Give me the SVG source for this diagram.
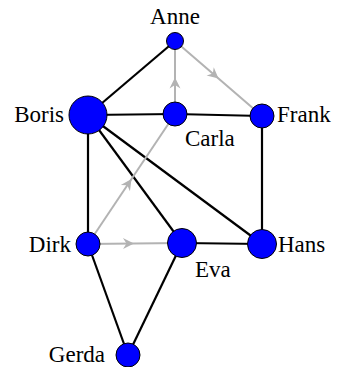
<svg xmlns="http://www.w3.org/2000/svg" width="338" height="367" viewBox="0 0 338 367">
<style>
.e{stroke:#000;stroke-width:2.2;fill:none}
.g{stroke:#b3b3b3;stroke-width:2;fill:none;marker-mid:url(#ah)}
.n{fill:#0000ff;stroke:#000;stroke-width:1}
.t{font-family:'Liberation Serif',Tinos,'Times New Roman',Times,'Noto Serif','DejaVu Serif',serif;font-size:23px;fill:#000}
</style>
<defs>
<marker id="ah" markerUnits="userSpaceOnUse" markerWidth="14" markerHeight="14" viewBox="-12 -7 14 14" refX="0" refY="0" orient="auto">
<path d="M0,0 L-11,-5.5 L-7.5,0 L-11,5.5 Z" fill="#b3b3b3"/>
</marker>
</defs>
<rect width="338" height="367" fill="#fff"/>
<g id="connectors">
<line class="e" x1="175" y1="41" x2="88" y2="115"/>
<line class="e" x1="88" y1="115" x2="175" y2="114"/>
<line class="e" x1="175" y1="114" x2="262" y2="116"/>
<line class="e" x1="262" y1="116" x2="262" y2="244"/>
<line class="e" x1="88" y1="115" x2="88" y2="244"/>
<line class="e" x1="88" y1="115" x2="182" y2="243"/>
<line class="e" x1="88" y1="115" x2="262" y2="244"/>
<line class="e" x1="182" y1="243" x2="262" y2="244"/>
<line class="e" x1="88" y1="244" x2="128" y2="355"/>
<line class="e" x1="182" y1="243" x2="128" y2="355"/>
<polyline class="g" points="175,114 175,77.5 175,41"/>
<polyline class="g" points="175,41 218.5,78.5 262,116"/>
<polyline class="g" points="88,244 131.5,179 175,114"/>
<polyline class="g" points="88,244 134,243.5 182,243"/>
</g>
<g id="anne"><circle class="n" cx="175" cy="41" r="8.5"/><text class="t" x="175" y="24" text-anchor="middle">Anne</text></g>
<g id="boris"><circle class="n" cx="88" cy="115" r="19"/><text class="t" x="64" y="122" text-anchor="end">Boris</text></g>
<g id="carla"><circle class="n" cx="175" cy="114" r="12"/><text class="t" x="185" y="146">Carla</text></g>
<g id="frank"><circle class="n" cx="262" cy="116" r="12"/><text class="t" x="277" y="122">Frank</text></g>
<g id="dirk"><circle class="n" cx="88" cy="244" r="12"/><text class="t" x="71" y="252" text-anchor="end">Dirk</text></g>
<g id="eva"><circle class="n" cx="182" cy="243" r="14.5"/><text class="t" x="195" y="277">Eva</text></g>
<g id="hans"><circle class="n" cx="262" cy="244" r="14.5"/><text class="t" x="278" y="252">Hans</text></g>
<g id="gerda"><circle class="n" cx="128" cy="355" r="12"/><text class="t" x="105" y="362" text-anchor="end">Gerda</text></g>
</svg>
